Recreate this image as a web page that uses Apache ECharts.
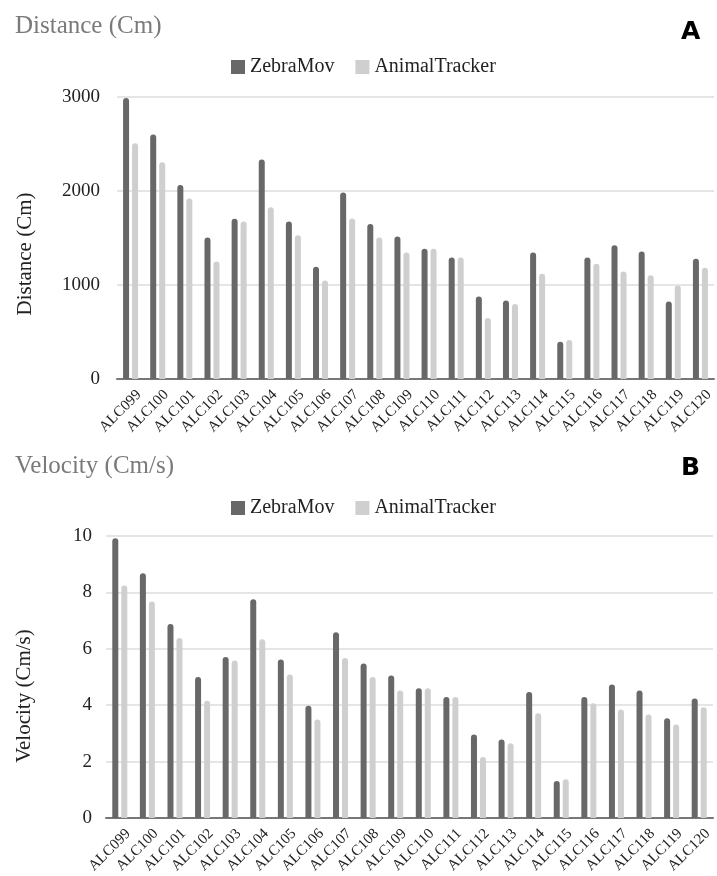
<!DOCTYPE html>
<html>
<head>
<meta charset="utf-8">
<script src="https://cdn.jsdelivr.net/npm/echarts@6/dist/echarts.min.js"></script>
<style>
html,body{margin:0;padding:0;background:#fff;}
#chart{width:717px;height:876px;}
</style>
</head>
<body>
<div id="chart"></div>
<script>
const categories = ['ALC099','ALC100','ALC101','ALC102','ALC103','ALC104','ALC105','ALC106','ALC107','ALC108','ALC109','ALC110','ALC111','ALC112','ALC113','ALC114','ALC115','ALC116','ALC117','ALC118','ALC119','ALC120'];
const distanceZebraMov = [2990,2600,2065,1505,1705,2335,1675,1195,1985,1650,1515,1385,1293,878,836,1346,396,1293,1424,1357,825,1279];
const distanceAnimalTracker = [2508,2305,1919,1250,1675,1828,1530,1048,1707,1505,1346,1385,1293,648,797,1119,414,1225,1144,1105,995,1183];
const velocityZebraMov = [9.92,8.68,6.88,5.0,5.71,7.76,5.62,3.98,6.59,5.48,5.05,4.6,4.29,2.96,2.78,4.47,1.31,4.29,4.73,4.52,3.54,4.24];
const velocityAnimalTracker = [8.24,7.68,6.38,4.16,5.58,6.34,5.09,3.49,5.67,5.0,4.52,4.6,4.29,2.16,2.65,3.71,1.37,4.07,3.85,3.67,3.31,3.93];
const distanceTicks = [0,1000,2000,3000];
const velocityTicks = [0,2,4,6,8,10];

const SERIF = '"Liberation Serif", "DejaVu Serif", serif';
const DARK = '#686868';
const LIGHT = '#cfcfcf';

const chart = echarts.init(document.getElementById('chart'), null, {renderer:'canvas'});

function xAxisCfg(gridIndex){
  return {
    type:'category', gridIndex, data:categories,
    axisLine:{lineStyle:{color:'#777', width:2}},
    axisTick:{show:false},
    axisLabel:{rotate:45, fontFamily:SERIF, fontSize:15, color:'#222', margin:22, padding:[0,-12,0,0], interval:0}
  };
}
function yAxisCfg(gridIndex, ticks, margin){
  return {
    type:'value', gridIndex, min:ticks[0], max:ticks[ticks.length-1], interval:ticks[1]-ticks[0],
    axisLine:{show:false}, axisTick:{show:false},
    splitLine:{lineStyle:{color:'#dcdcdc', width:1.5}},
    axisLabel:{fontFamily:SERIF, fontSize:19, color:'#222', margin, formatter:v => String(v)}
  };
}
function barSeries(name, data, color, idx){
  return {
    name, type:'bar', data, xAxisIndex:idx, yAxisIndex:idx,
    barWidth:6, barGap:'50%',
    itemStyle:{color, borderRadius:[3,3,0,0]},
    emphasis:{disabled:true}
  };
}
function legendCfg(names, top){
  return {data:names, left:226, top, itemWidth:14, itemHeight:14, itemGap:21, icon:'rect',
    formatter:n => n.trim(), textStyle:{fontFamily:SERIF, fontSize:20, color:'#222'}};
}

const option = {
  animation:false,
  backgroundColor:'#fff',
  title:[
    {text:'Distance (Cm)', left:10, top:9, textStyle:{fontFamily:SERIF, fontSize:25, fontWeight:'normal', color:'#7a7a7a'}},
    {text:'A', left:676, top:15, textStyle:{fontFamily:'"DejaVu Sans", sans-serif', fontSize:25, fontWeight:'bold', color:'#000'}},
    {text:'Velocity (Cm/s)', left:10, top:449, textStyle:{fontFamily:SERIF, fontSize:25, fontWeight:'normal', color:'#7a7a7a'}},
    {text:'B', left:676, top:451, textStyle:{fontFamily:'"DejaVu Sans", sans-serif', fontSize:25, fontWeight:'bold', color:'#000'}}
  ],
  legend:[
    legendCfg(['ZebraMov','AnimalTracker'], 52),
    legendCfg(['ZebraMov ','AnimalTracker '], 493)
  ],
  grid:[
    {left:117, right:3, top:97, height:282},
    {left:106, right:4, top:536, height:283}
  ],
  xAxis:[xAxisCfg(0), xAxisCfg(1)],
  yAxis:[yAxisCfg(0, distanceTicks, 17), yAxisCfg(1, velocityTicks, 14)],
  series:[
    barSeries('ZebraMov', distanceZebraMov, DARK, 0),
    barSeries('AnimalTracker', distanceAnimalTracker, LIGHT, 0),
    barSeries('ZebraMov ', velocityZebraMov, DARK, 1),
    barSeries('AnimalTracker ', velocityAnimalTracker, LIGHT, 1)
  ],
  graphic:[
    {type:'text', x:25, y:254, rotation:Math.PI/2, style:{text:'Distance (Cm)', fontFamily:SERIF, fontSize:21, fill:'#222', align:'center', verticalAlign:'middle'}},
    {type:'text', x:24, y:696, rotation:Math.PI/2, style:{text:'Velocity (Cm/s)', fontFamily:SERIF, fontSize:21, fill:'#222', align:'center', verticalAlign:'middle'}}
  ]
};
chart.setOption(option);
</script>
</body>
</html>
